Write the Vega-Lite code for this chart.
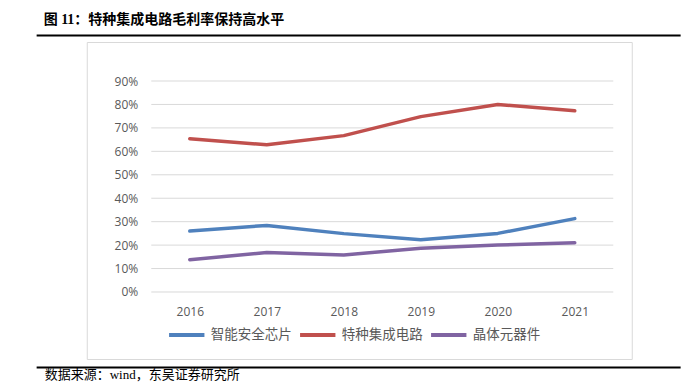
{
  "$schema": "https://vega.github.io/schema/vega-lite/v6.json",
  "background": "white",
  "padding": {"left": 33, "top": 12, "right": 5, "bottom": 5},
  "spacing": 2,
  "center": true,
  "resolve": {"scale": {"x": "independent", "y": "independent", "color": "independent"}},
  "config": {"view": {"stroke": null}, "concat": {"spacing": 2}},
  "datasets": {
    "margin": [
      {"year": 2016, "series": "智能安全芯片", "value": 0.260},
      {"year": 2017, "series": "智能安全芯片", "value": 0.284},
      {"year": 2018, "series": "智能安全芯片", "value": 0.249},
      {"year": 2019, "series": "智能安全芯片", "value": 0.223},
      {"year": 2020, "series": "智能安全芯片", "value": 0.250},
      {"year": 2021, "series": "智能安全芯片", "value": 0.313},
      {"year": 2016, "series": "特种集成电路", "value": 0.654},
      {"year": 2017, "series": "特种集成电路", "value": 0.628},
      {"year": 2018, "series": "特种集成电路", "value": 0.667},
      {"year": 2019, "series": "特种集成电路", "value": 0.748},
      {"year": 2020, "series": "特种集成电路", "value": 0.800},
      {"year": 2021, "series": "特种集成电路", "value": 0.773},
      {"year": 2016, "series": "晶体元器件", "value": 0.138},
      {"year": 2017, "series": "晶体元器件", "value": 0.168},
      {"year": 2018, "series": "晶体元器件", "value": 0.158},
      {"year": 2019, "series": "晶体元器件", "value": 0.187},
      {"year": 2020, "series": "晶体元器件", "value": 0.200},
      {"year": 2021, "series": "晶体元器件", "value": 0.210}
    ],
    "gridlines": [
      {"tick": 0}, {"tick": 0.1}, {"tick": 0.2}, {"tick": 0.3}, {"tick": 0.4},
      {"tick": 0.5}, {"tick": 0.6}, {"tick": 0.7}, {"tick": 0.8}, {"tick": 0.9}
    ]
  },
  "vconcat": [
    {
      "width": 644,
      "height": 1,
      "data": {"name": "margin"},
      "mark": {"type": "point", "opacity": 0},
      "encoding": {
        "x": {
          "field": "year", "type": "quantitative",
          "scale": {"zero": false},
          "axis": {
            "orient": "top", "labels": false, "ticks": false, "grid": false,
            "domain": true, "domainColor": "#000000", "domainWidth": 2,
            "title": "图 11：特种集成电路毛利率保持高水平",
            "titleAnchor": "start", "titleAlign": "left", "titleX": 7,
            "titleFont": "Liberation Serif, Noto Sans CJK SC", "titleFontSize": 14,
            "titleFontWeight": "bold", "titleColor": "#000000", "titlePadding": 9
          }
        }
      }
    },
    {
      "width": 545,
      "height": 317,
      "view": {"stroke": "#d9d9d9", "strokeWidth": 1},
      "layer": [
        {
          "data": {"name": "gridlines"},
          "mark": {"type": "rule", "color": "#d9d9d9", "strokeWidth": 1},
          "encoding": {
            "y": {
              "field": "tick", "type": "quantitative",
              "scale": {"domain": [-0.2858, 1.0664], "nice": false, "zero": false},
              "axis": {
                "orient": "left", "offset": -54, "values": [0, 0.1, 0.2, 0.3, 0.4, 0.5, 0.6, 0.7, 0.8, 0.9],
                "format": ".0%", "domain": false, "ticks": false, "grid": false, "labelOverlap": false,
                "labelPadding": 3, "labelFont": "Open Sans", "labelFontSize": 12,
                "labelColor": "#595959", "title": null
              }
            },
            "x": {
              "datum": 2015.5, "type": "quantitative",
              "scale": {"domain": [2014.662, 2021.74], "nice": false, "zero": false},
              "axis": {
                "orient": "bottom", "offset": -67, "values": [2016, 2017, 2018, 2019, 2020, 2021],
                "format": "d", "domain": false, "ticks": false, "grid": false, "labelOverlap": false,
                "labelPadding": 14, "labelFont": "Open Sans", "labelFontSize": 12,
                "labelColor": "#595959", "title": null
              }
            },
            "x2": {"datum": 2021.5}
          }
        },
        {
          "data": {"name": "margin"},
          "mark": {"type": "line", "strokeWidth": 3.5, "strokeCap": "round", "strokeJoin": "round"},
          "encoding": {
            "x": {
              "field": "year", "type": "quantitative",
              "scale": {"domain": [2014.662, 2021.74], "nice": false, "zero": false},
              "axis": {
                "orient": "bottom", "offset": -67, "values": [2016, 2017, 2018, 2019, 2020, 2021],
                "format": "d", "domain": false, "ticks": false, "grid": false, "labelOverlap": false,
                "labelPadding": 14, "labelFont": "Open Sans", "labelFontSize": 12,
                "labelColor": "#595959", "title": null
              }
            },
            "y": {
              "field": "value", "type": "quantitative",
              "scale": {"domain": [-0.2858, 1.0664], "nice": false, "zero": false},
              "axis": {
                "orient": "left", "offset": -54, "values": [0, 0.1, 0.2, 0.3, 0.4, 0.5, 0.6, 0.7, 0.8, 0.9],
                "format": ".0%", "domain": false, "ticks": false, "grid": false, "labelOverlap": false,
                "labelPadding": 3, "labelFont": "Open Sans", "labelFontSize": 12,
                "labelColor": "#595959", "title": null
              }
            },
            "color": {
              "field": "series", "type": "nominal",
              "scale": {
                "domain": ["智能安全芯片", "特种集成电路", "晶体元器件"],
                "range": ["#4f81bd", "#c0504d", "#8064a2"]
              },
              "legend": {
                "orient": "none", "legendX": 80, "legendY": 273, "direction": "horizontal",
                "title": null, "symbolType": "stroke", "symbolSize": 1250, "symbolStrokeWidth": 4,
                "labelFont": "Noto Sans CJK SC", "labelFontSize": 13.5, "labelColor": "#595959",
                "labelOffset": 4, "columnPadding": 0
              }
            }
          }
        }
      ]
    },
    {
      "width": 644,
      "height": 4,
      "data": {"name": "margin"},
      "mark": {"type": "point", "opacity": 0},
      "encoding": {
        "x": {
          "field": "year", "type": "quantitative",
          "scale": {"zero": false},
          "axis": {
            "orient": "bottom", "labels": false, "ticks": false, "grid": false,
            "domain": true, "domainColor": "#000000", "domainWidth": 2,
            "title": "数据来源：wind，东吴证券研究所",
            "titleAnchor": "start", "titleAlign": "left", "titleX": 8,
            "titleFont": "Liberation Serif, Noto Sans CJK SC", "titleFontSize": 13,
            "titleFontWeight": "normal", "titleColor": "#000000", "titlePadding": 1
          }
        }
      }
    }
  ]
}
